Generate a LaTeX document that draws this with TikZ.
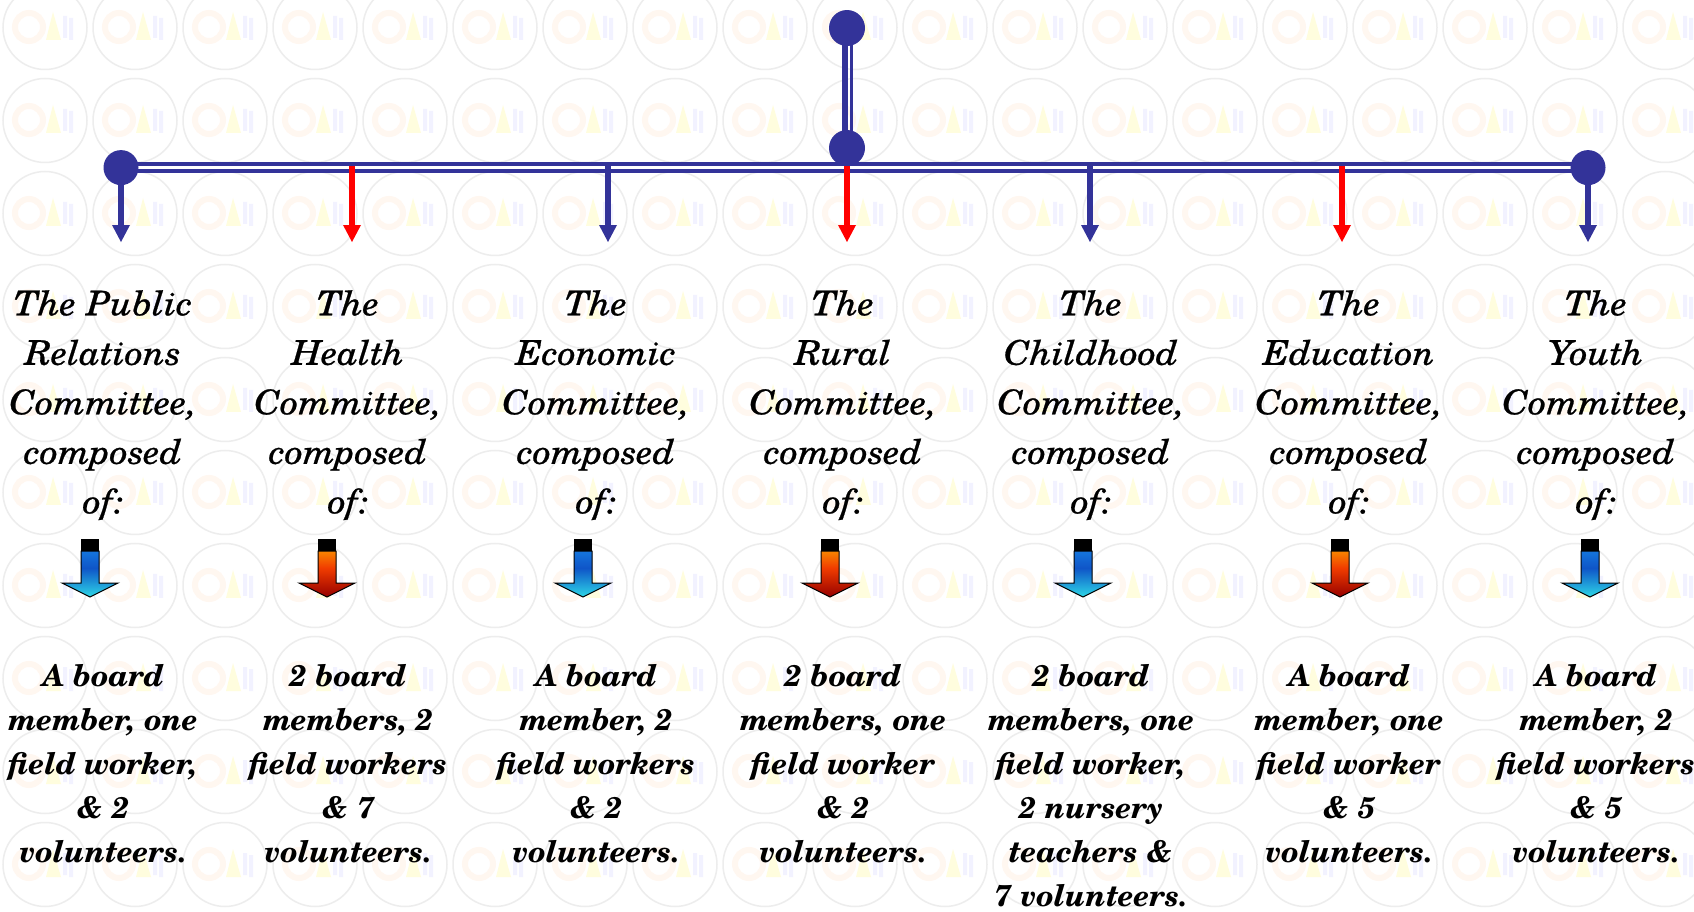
\documentclass[tikz,border=0pt]{standalone}
\usepackage{fontspec}
\setmainfont{TeX Gyre Schola}
\newfontfamily\namesfont[FakeStretch=1.06,FakeBold=0.7]{TeX Gyre Schola}
\usepackage{tikz}
\usetikzlibrary{patterns}

\definecolor{chartblue}{RGB}{51,51,153}
\definecolor{chartred}{RGB}{255,0,0}
\definecolor{coolA}{RGB}{25,140,235}
\definecolor{coolB}{RGB}{15,85,200}
\definecolor{coolC}{RGB}{45,215,230}
\definecolor{warmA}{RGB}{255,185,0}
\definecolor{warmB}{RGB}{240,60,0}
\definecolor{warmC}{RGB}{150,0,0}

\pgfdeclarepatterninherentlycolored{logotiles}{\pgfpoint{-1pt}{-1pt}}{\pgfpoint{91pt}{94pt}}{\pgfpoint{90pt}{93pt}}{
\pgfsetlinewidth{1.5pt}
\pgfsetstrokecolor{black!7}
\pgfpathcircle{\pgfpoint{45pt}{46.5pt}}{42pt}
\pgfusepath{stroke}
\pgfsetlinewidth{6pt}
\pgfsetstrokecolor{red!10!orange!6}
\pgfpathcircle{\pgfpoint{29pt}{47pt}}{14pt}
\pgfusepath{stroke}
\pgfsetfillcolor{yellow!13}
\pgfpathmoveto{\pgfpoint{46pt}{34pt}}
\pgfpathlineto{\pgfpoint{61pt}{34pt}}
\pgfpathlineto{\pgfpoint{53pt}{62pt}}
\pgfpathclose
\pgfusepath{fill}
\pgfsetfillcolor{blue!5}
\pgfpathrectangle{\pgfpoint{63pt}{36pt}}{\pgfpoint{4pt}{22pt}}
\pgfpathrectangle{\pgfpoint{69pt}{34pt}}{\pgfpoint{4pt}{22pt}}
\pgfusepath{fill}
}

\begin{document}
\begin{tikzpicture}[x=1pt,y=-1pt]
\tikzstyle{every node}+=[inner sep=0pt]
\tikzstyle{title}=[anchor=north,align=center,font=\namesfont\fontsize{34}{49.5}\selectfont\itshape]
\tikzstyle{members}=[anchor=north,align=center,font=\fontsize{30}{44}\selectfont\bfseries\itshape]
\tikzstyle{coolarrow}=[draw=black,line width=1pt,top color=coolA,bottom color=coolC,middle color=coolB]
\tikzstyle{warmarrow}=[draw=black,line width=1pt,top color=warmA,bottom color=warmC,middle color=warmB]
\useasboundingbox (0,0) rectangle (1694,911);
\fill [white] (0,0) rectangle (1694,911);
\fill [pattern=logotiles] (0,0) rectangle (1694,911);
% chart spine
\coordinate (top) at (847,28);
\coordinate (hub) at (847,148);
\coordinate (left) at (121,167.6);
\coordinate (right) at (1588,167.6);
\draw [chartblue,line width=6.5pt] ([xshift=-2pt]top) -- ([xshift=-2pt]hub);
\draw [chartblue,line width=2.7pt] ([xshift=4.3pt]top) -- ([xshift=4.3pt]hub);
\draw [chartblue,line width=3.8pt,double=white,double distance=3.5pt] (left) -- (right);
% arrows down to the committees
\coordinate (s1) at (121,166);
\coordinate (t1) at (121,242);
\coordinate (s2) at (352,166);
\coordinate (t2) at (352,242);
\coordinate (s3) at (608,166);
\coordinate (t3) at (608,242);
\coordinate (s4) at (847,166);
\coordinate (t4) at (847,242);
\coordinate (s5) at (1090,166);
\coordinate (t5) at (1090,242);
\coordinate (s6) at (1342,166);
\coordinate (t6) at (1342,242);
\coordinate (s7) at (1588,166);
\coordinate (t7) at (1588,242);
\draw [chartblue,line width=5.5pt] (s1) -- ([yshift=16pt]t1);
\fill [chartblue] (t1) -- ++(-9,-17) -- ++(18,0) -- cycle;
\draw [chartred,line width=5.5pt] (s2) -- ([yshift=16pt]t2);
\fill [chartred] (t2) -- ++(-9,-17) -- ++(18,0) -- cycle;
\draw [chartblue,line width=5.5pt] (s3) -- ([yshift=16pt]t3);
\fill [chartblue] (t3) -- ++(-9,-17) -- ++(18,0) -- cycle;
\draw [chartred,line width=5.5pt] (s4) -- ([yshift=16pt]t4);
\fill [chartred] (t4) -- ++(-9,-17) -- ++(18,0) -- cycle;
\draw [chartblue,line width=5.5pt] (s5) -- ([yshift=16pt]t5);
\fill [chartblue] (t5) -- ++(-9,-17) -- ++(18,0) -- cycle;
\draw [chartred,line width=5.5pt] (s6) -- ([yshift=16pt]t6);
\fill [chartred] (t6) -- ++(-9,-17) -- ++(18,0) -- cycle;
\draw [chartblue,line width=5.5pt] (s7) -- ([yshift=16pt]t7);
\fill [chartblue] (t7) -- ++(-9,-17) -- ++(18,0) -- cycle;
% dots
\fill [chartblue] (top) circle (18);
\fill [chartblue] (hub) circle (18);
\fill [chartblue] (left) circle (17.5);
\fill [chartblue] (right) circle (17.5);
% committee names
\node [title] (pr) at (103,290) {The Public\\Relations\\Committee,\\composed\\of:};
\node [title] (health) at (348,290) {The\\Health\\Committee,\\composed\\of:};
\node [title] (economic) at (596,290) {The\\Economic\\Committee,\\composed\\of:};
\node [title] (rural) at (843,290) {The\\Rural\\Committee,\\composed\\of:};
\node [title] (childhood) at (1091,290) {The\\Childhood\\Committee,\\composed\\of:};
\node [title] (education) at (1349,290) {The\\Education\\Committee,\\composed\\of:};
\node [title] (youth) at (1596,290) {The\\Youth\\Committee,\\composed\\of:};
% block arrows
\coordinate (b1) at (90,539);
\coordinate (b2) at (327,539);
\coordinate (b3) at (583,539);
\coordinate (b4) at (830,539);
\coordinate (b5) at (1083,539);
\coordinate (b6) at (1340,539);
\coordinate (b7) at (1590,539);
\fill [black] (b1) ++(-9,0) rectangle ++(18,12);
\shadedraw [coolarrow] (b1) ++(-9,12) -- ++(18,0) -- ++(0,32) -- ++(19,0) -- ++(-28,14) -- ++(-28,-14) -- ++(19,0) -- cycle;
\fill [black] (b2) ++(-9,0) rectangle ++(18,12);
\shadedraw [warmarrow] (b2) ++(-9,12) -- ++(18,0) -- ++(0,32) -- ++(19,0) -- ++(-28,14) -- ++(-28,-14) -- ++(19,0) -- cycle;
\fill [black] (b3) ++(-9,0) rectangle ++(18,12);
\shadedraw [coolarrow] (b3) ++(-9,12) -- ++(18,0) -- ++(0,32) -- ++(19,0) -- ++(-28,14) -- ++(-28,-14) -- ++(19,0) -- cycle;
\fill [black] (b4) ++(-9,0) rectangle ++(18,12);
\shadedraw [warmarrow] (b4) ++(-9,12) -- ++(18,0) -- ++(0,32) -- ++(19,0) -- ++(-28,14) -- ++(-28,-14) -- ++(19,0) -- cycle;
\fill [black] (b5) ++(-9,0) rectangle ++(18,12);
\shadedraw [coolarrow] (b5) ++(-9,12) -- ++(18,0) -- ++(0,32) -- ++(19,0) -- ++(-28,14) -- ++(-28,-14) -- ++(19,0) -- cycle;
\fill [black] (b6) ++(-9,0) rectangle ++(18,12);
\shadedraw [warmarrow] (b6) ++(-9,12) -- ++(18,0) -- ++(0,32) -- ++(19,0) -- ++(-28,14) -- ++(-28,-14) -- ++(19,0) -- cycle;
\fill [black] (b7) ++(-9,0) rectangle ++(18,12);
\shadedraw [coolarrow] (b7) ++(-9,12) -- ++(18,0) -- ++(0,32) -- ++(19,0) -- ++(-28,14) -- ++(-28,-14) -- ++(19,0) -- cycle;
% members
\node [members] (prm) at (103,664) {A board\\member, one\\field worker,\\\& 2\\volunteers.};
\node [members] (healthm) at (348,664) {2 board\\members, 2\\field workers\\\& 7\\volunteers.};
\node [members] (economicm) at (596,664) {A board\\member, 2\\field workers\\\& 2\\volunteers.};
\node [members] (ruralm) at (843,664) {2 board\\members, one\\field worker\\\& 2\\volunteers.};
\node [members] (childhoodm) at (1091,664) {2 board\\members, one\\field worker,\\2 nursery\\teachers \&\\7 volunteers.};
\node [members] (educationm) at (1349,664) {A board\\member, one\\field worker\\\& 5\\volunteers.};
\node [members] (youthm) at (1596,664) {A board\\member, 2\\field workers\\\& 5\\volunteers.};
\end{tikzpicture}
\end{document}
